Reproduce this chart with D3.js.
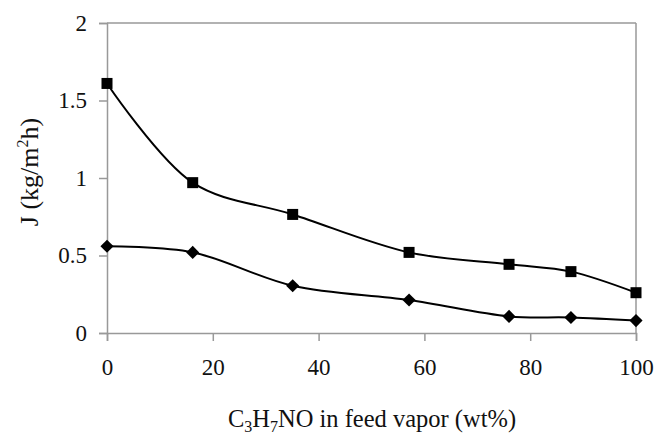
<!DOCTYPE html>
<html><head><meta charset="utf-8">
<script src="https://cdn.jsdelivr.net/npm/d3@7"></script>
<style>body{margin:0;background:#fff}svg{display:block}svg text{font-family:'Liberation Serif','Times New Roman',serif;fill:#111}</style>
</head><body><svg id="c" width="656" height="434"></svg>
<script>
const xValues = [0, 16.2, 35.1, 57.1, 76, 87.7, 100];
const squareSeries = [1.61, 0.97, 0.765, 0.52, 0.443, 0.396, 0.26];
const diamondSeries = [0.56, 0.52, 0.305, 0.213, 0.107, 0.1, 0.08];
const xTicks = [0, 20, 40, 60, 80, 100];
const yTicks = [0, 0.5, 1, 1.5, 2];

const svg = d3.select("#c");
const x = d3.scaleLinear().domain([0, 100]).range([107, 636]);
const y = d3.scaleLinear().domain([0, 2]).range([333, 23]);
const axisColor = "#999";
const serif = "'Liberation Serif','Times New Roman',serif";

svg.append("line").attr("x1", x(0)).attr("x2", x(100)).attr("y1", y(2)).attr("y2", y(2)).attr("stroke", axisColor).attr("stroke-width", 1.5);
svg.append("line").attr("x1", x(100)).attr("x2", x(100)).attr("y1", y(2)).attr("y2", y(0)).attr("stroke", axisColor).attr("stroke-width", 1.5);

const gx = svg.append("g").attr("transform", `translate(0,${y(0)})`)
  .call(d3.axisBottom(x).tickValues(xTicks).tickSize(8).tickPadding(18).tickFormat(d3.format("d")));
const gy = svg.append("g").attr("transform", `translate(${x(0)},0)`)
  .call(d3.axisLeft(y).tickValues(yTicks).tickSize(8).tickPadding(12).tickFormat(d => String(d)));
[gx, gy].forEach(g => {
  g.attr("font-family", serif).attr("font-size", 23);
  g.select(".domain").attr("stroke", axisColor).attr("stroke-width", 1.5);
  g.selectAll(".tick line").attr("stroke", axisColor).attr("stroke-width", 1.5);
  g.selectAll("text").style("font-family", serif).attr("font-size", 23).attr("fill", "#111");
});

const line = d3.line().x(d => x(d[0])).y(d => y(d[1])).curve(d3.curveCatmullRom.alpha(0.5));
[squareSeries, diamondSeries].forEach(s => {
  svg.append("path").datum(xValues.map((v, i) => [v, s[i]])).attr("d", line)
    .attr("fill", "none").attr("stroke", "#000").attr("stroke-width", 2);
});
svg.selectAll(".sq").data(xValues.map((v, i) => [v, squareSeries[i]])).join("rect")
  .attr("x", d => x(d[0]) - 5.5).attr("y", d => y(d[1]) - 5.5).attr("width", 11).attr("height", 11).attr("fill", "#000");
const diamond = d3.symbol().type(d3.symbolDiamond2).size(110);
svg.selectAll(".dm").data(xValues.map((v, i) => [v, diamondSeries[i]])).join("path")
  .attr("d", diamond).attr("transform", d => `translate(${x(d[0])},${y(d[1])})`).attr("fill", "#000");

const xt = svg.append("text").attr("x", 372).attr("y", 427).attr("text-anchor", "middle").attr("font-size", 24.5).style("font-family", serif);
xt.append("tspan").text("C");
xt.append("tspan").attr("font-size", 16).attr("dy", 5).text("3");
xt.append("tspan").attr("dy", -5).text("H");
xt.append("tspan").attr("font-size", 16).attr("dy", 5).text("7");
xt.append("tspan").attr("dy", -5).text("NO in feed vapor (wt%)");

const yt = svg.append("text").attr("transform", "translate(38,172) rotate(-90)").attr("text-anchor", "middle").attr("font-size", 26).style("font-family", serif);
yt.append("tspan").text("J (kg/m");
yt.append("tspan").attr("font-size", 16).attr("dy", -10).text("2");
yt.append("tspan").attr("dy", 10).text("h)");
</script></body></html>
